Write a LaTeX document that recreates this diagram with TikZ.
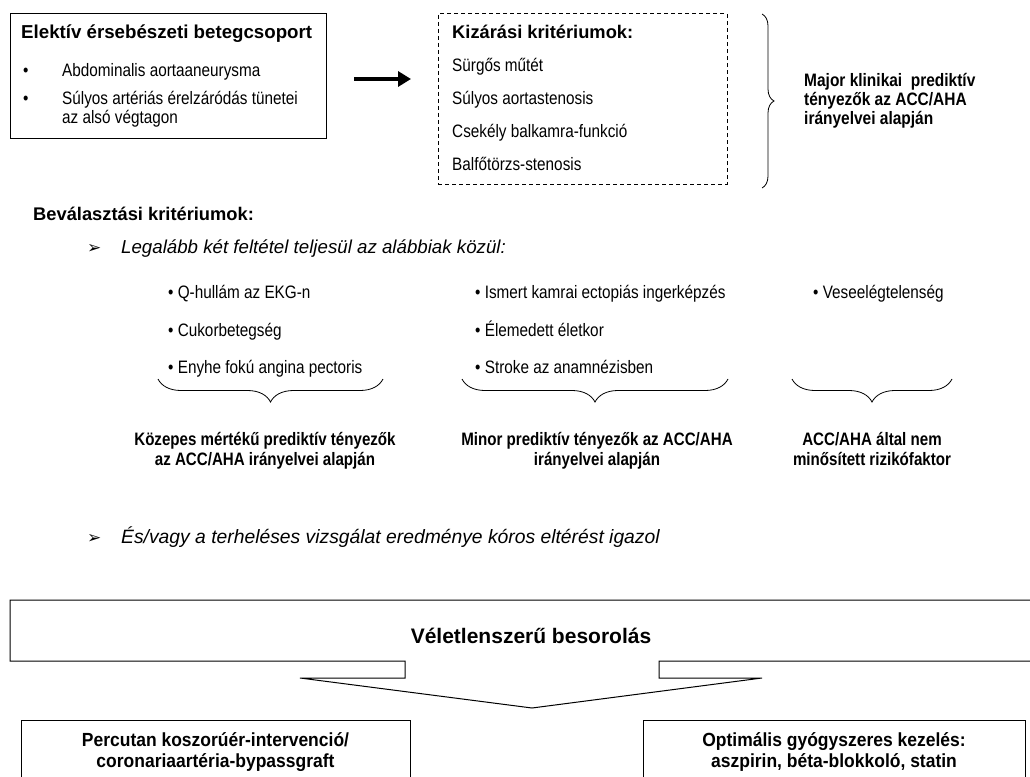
\documentclass[tikz,border=0pt]{standalone}
\usepackage{fontspec}
\setmainfont{Liberation Sans}
\newfontfamily\narrowf[FakeStretch=0.85]{Liberation Sans}
\newfontfamily\narrowbf[FakeStretch=0.84]{Liberation Sans}
\newfontfamily\majf[FakeStretch=0.86]{Liberation Sans}
\newfontfamily\botf[FakeStretch=0.92]{Liberation Sans}
\newfontfamily\dingf{DejaVu Sans}
\usetikzlibrary{arrows.meta,decorations.pathreplacing}
\begin{document}
\begin{tikzpicture}[x=1pt,y=-1pt,
  boxst/.style={draw, line width=1pt, inner sep=0pt},
  txt/.style={inner sep=0pt, anchor=base west},
  itemst/.style={txt, font=\narrowf\fontsize{18}{19}\selectfont},
  headst/.style={txt, font=\bfseries\fontsize{18.7}{22}\selectfont},
  lblst/.style={inner sep=0pt, anchor=base, align=center, font=\narrowbf\bfseries\fontsize{18}{20}\selectfont},
  italst/.style={txt, font=\itshape\fontsize{18.7}{22}\selectfont},
  dingst/.style={txt, font=\dingf\fontsize{17}{18}\selectfont},
  bracest/.style={decorate, line width=0.8pt},
]
\clip (0,0) rectangle (1030,776);
\fill[white] (0,0) rectangle (1030,776);

% Box 1
\node[boxst, minimum width=316pt, minimum height=124pt] (b1) at (168,76) {};
\node[headst] (t1) at (21,38) {Elektív érsebészeti betegcsoport};
\node[itemst] (bu1) at (23,77) {•};
\node[itemst] (i1) at (62,77) {Abdominalis aortaaneurysma};
\node[itemst] (bu2) at (23,104) {•};
\node[itemst, align=left] (i2) at (62,123) {Súlyos artériás érelzáródás tünetei\\az alsó végtagon};

% arrow
\coordinate (as) at (354,79);
\coordinate (ae) at (411,79);
\draw[line width=4.5pt, -{Triangle[length=13pt,width=15pt]}] (as) -- (ae);

% Dashed box
\node[draw, dash pattern=on 4pt off 3pt, line width=1pt, minimum width=289pt, minimum height=170pt, inner sep=0pt] (kb) at (582.5,99) {};
\node[headst, font=\bfseries\fontsize{18.3}{22}\selectfont] (kt) at (452,38) {Kizárási kritériumok:};
\node[itemst] (k1) at (452,71) {Sürgős műtét};
\node[itemst] (k2) at (452,104) {Súlyos aortastenosis};
\node[itemst] (k3) at (452,137) {Csekély balkamra-funkció};
\node[itemst] (k4) at (452,170) {Balfőtörzs-stenosis};

% right brace
\draw[bracest, decoration={brace, amplitude=12pt}] (762,14) -- (762,188);
\node[inner sep=0pt, anchor=base west, align=left, font=\majf\bfseries\fontsize{18}{19}\selectfont] (maj) at (804,124) {Major klinikai\ \ prediktív\\tényezők az ACC/AHA\\irányelvei alapján};

% Beválasztási
\node[headst, font=\bfseries\fontsize{18.3}{22}\selectfont] (bv) at (33,220) {Beválasztási kritériumok:};
\node[dingst] (d1) at (87,253) {➢};
\node[italst] (leg) at (121,253) {Legalább két feltétel teljesül az alábbiak közül:};

% columns
\node[itemst] (c11) at (168,298) {• Q-hullám az EKG-n};
\node[itemst] (c12) at (168,336) {• Cukorbetegség};
\node[itemst] (c13) at (168,373) {• Enyhe fokú angina pectoris};
\node[itemst] (c21) at (475,298) {• Ismert kamrai ectopiás ingerképzés};
\node[itemst] (c22) at (475,336) {• Élemedett életkor};
\node[itemst] (c23) at (475,373) {• Stroke az anamnézisben};
\node[itemst] (c31) at (813,298) {• Veseelégtelenség};

\draw[bracest, decoration={brace, amplitude=23pt}] (383,379) -- (158,379);
\draw[bracest, decoration={brace, amplitude=23pt}] (728,379) -- (462,379);
\draw[bracest, decoration={brace, amplitude=23pt}] (952,379) -- (792,379);

\node[lblst] (l1) at (265,465) {Közepes mértékű prediktív tényezők\\az ACC/AHA irányelvei alapján};
\node[lblst] (l2) at (597,465) {Minor prediktív tényezők az ACC/AHA\\irányelvei alapján};
\node[lblst] (l3) at (872,465) {ACC/AHA által nem\\minősített rizikófaktor};

\node[dingst] (d2) at (87,543) {➢};
\node[italst, font=\itshape\fontsize{19.3}{22}\selectfont] (es) at (121,543) {És/vagy a terheléses vizsgálat eredménye kóros eltérést igazol};

% big arrow
\draw[line width=1pt, line join=miter] (1040,600) -- (10,600) -- (10,661) -- (405,661) -- (405,678) -- (300,678) -- (532,708) -- (762,678) -- (659,678) -- (659,661) -- (1040,661);
\node[inner sep=0pt, anchor=base, font=\bfseries\fontsize{21}{24}\selectfont] (vel) at (531,643) {Véletlenszerű besorolás};

% bottom boxes
\node[boxst, minimum width=389pt, minimum height=64pt, align=center, font=\botf\bfseries\fontsize{19}{21}\selectfont] (pci) at (215.5,752) {Percutan koszorúér-intervenció/\\coronariaartéria-bypassgraft};
\node[boxst, minimum width=382pt, minimum height=64pt, align=center, font=\botf\bfseries\fontsize{19}{21}\selectfont] (omt) at (834,752) {Optimális gyógyszeres kezelés:\\aszpirin, béta-blokkoló, statin};
\end{tikzpicture}
\end{document}
